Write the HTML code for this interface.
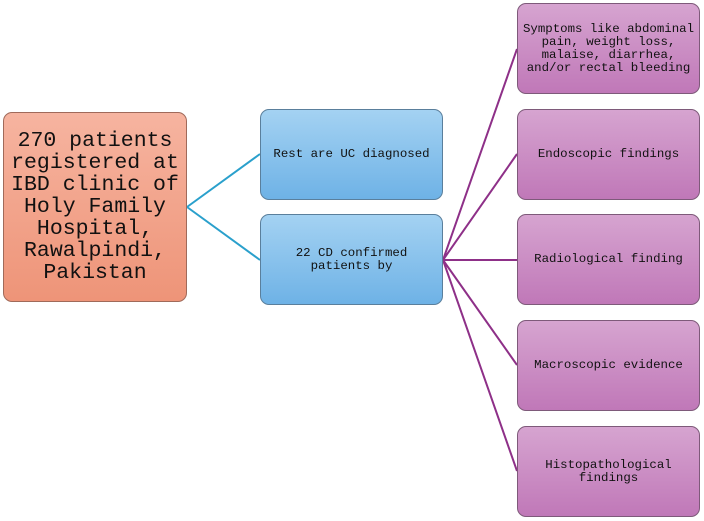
<!DOCTYPE html>
<html><head><style>
body{margin:0;width:704px;height:521px;background:#fff;position:relative;font-family:"Liberation Mono",monospace;}
.b{position:absolute;box-sizing:border-box;border-radius:9px;display:flex;align-items:center;justify-content:center;text-align:center;color:#111;}
.o{left:3px;top:112px;width:184px;height:190px;background:linear-gradient(#f6b4a0,#ee9478);border:1px solid #a06a5a;font-size:21.5px;line-height:22px;}
.m{left:260px;width:183px;height:91px;background:linear-gradient(#a4d2f2,#6eb2e6);border:1px solid #5a7f9c;font-size:12.4px;line-height:13px;}
.p{left:517px;width:183px;height:91px;background:linear-gradient(#d6a4d0,#c078b8);border:1px solid #7e5a7a;font-size:12.4px;line-height:13px;}
svg{position:absolute;left:0;top:0}
</style></head><body>
<svg width="704" height="521">
<g stroke="#2aa0cc" stroke-width="2" fill="none"><path d="M187 207 L260 154 M187 207 L260 260"/></g>
<g stroke="#8e3088" stroke-width="2" fill="none"><path d="M443 260 L517 49 M443 260 L517 154 M443 260 L517 260 M443 260 L517 365 M443 260 L517 471"/></g>
</svg>
<div class="b o">270 patients<br>registered at<br>IBD clinic of<br>Holy Family<br>Hospital,<br>Rawalpindi,<br>Pakistan</div>
<div class="b m" style="top:109px">Rest are UC diagnosed</div>
<div class="b m" style="top:214px">22 CD confirmed<br>patients by</div>
<div class="b p" style="top:3px">Symptoms like abdominal<br>pain, weight loss,<br>malaise, diarrhea,<br>and/or rectal bleeding</div>
<div class="b p" style="top:109px">Endoscopic findings</div>
<div class="b p" style="top:214px">Radiological finding</div>
<div class="b p" style="top:320px">Macroscopic evidence</div>
<div class="b p" style="top:426px">Histopathological<br>findings</div>
</body></html>
